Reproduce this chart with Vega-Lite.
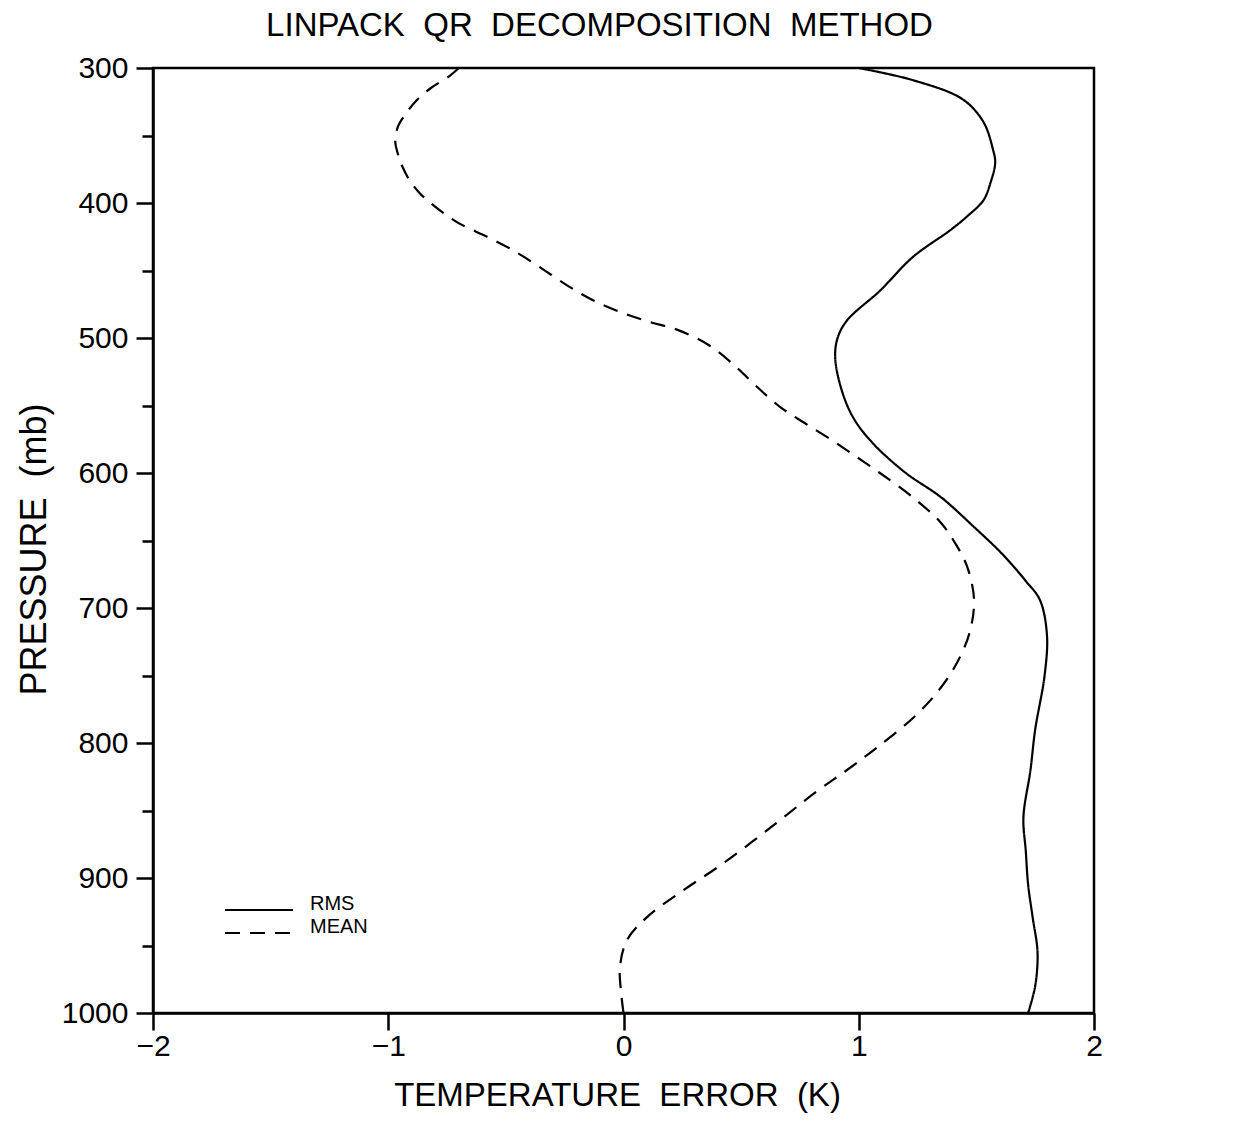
{
  "$schema": "https://vega.github.io/schema/vega-lite/v6.json",
  "autosize": {"type": "none"},
  "width": 941,
  "height": 945,
  "padding": {"left": 153, "top": 68, "right": 147, "bottom": 108},
  "background": "white",
  "config": {
    "view": {"stroke": "black", "strokeWidth": 2.5},
    "font": "Liberation Sans"
  },
  "title": {
    "text": "LINPACK\u00a0 QR\u00a0 DECOMPOSITION\u00a0 METHOD",
    "font": "Liberation Sans",
    "fontSize": 33,
    "fontWeight": "normal",
    "color": "black",
    "frame": "group",
    "anchor": "middle",
    "baseline": "alphabetic",
    "dx": -24,
    "offset": -16
  },
  "data": {
    "values": [
      {"series": "RMS", "pressure": 300, "error": 1.00},
      {"series": "RMS", "pressure": 309, "error": 1.23},
      {"series": "RMS", "pressure": 323, "error": 1.44},
      {"series": "RMS", "pressure": 340, "error": 1.53},
      {"series": "RMS", "pressure": 360, "error": 1.57},
      {"series": "RMS", "pressure": 370, "error": 1.58},
      {"series": "RMS", "pressure": 385, "error": 1.56},
      {"series": "RMS", "pressure": 398, "error": 1.53},
      {"series": "RMS", "pressure": 410, "error": 1.46},
      {"series": "RMS", "pressure": 420, "error": 1.39},
      {"series": "RMS", "pressure": 440, "error": 1.23},
      {"series": "RMS", "pressure": 465, "error": 1.09},
      {"series": "RMS", "pressure": 487, "error": 0.95},
      {"series": "RMS", "pressure": 500, "error": 0.91},
      {"series": "RMS", "pressure": 515, "error": 0.90},
      {"series": "RMS", "pressure": 540, "error": 0.93},
      {"series": "RMS", "pressure": 560, "error": 0.98},
      {"series": "RMS", "pressure": 578, "error": 1.06},
      {"series": "RMS", "pressure": 600, "error": 1.20},
      {"series": "RMS", "pressure": 618, "error": 1.35},
      {"series": "RMS", "pressure": 640, "error": 1.49},
      {"series": "RMS", "pressure": 660, "error": 1.61},
      {"series": "RMS", "pressure": 680, "error": 1.71},
      {"series": "RMS", "pressure": 694, "error": 1.77},
      {"series": "RMS", "pressure": 720, "error": 1.80},
      {"series": "RMS", "pressure": 750, "error": 1.79},
      {"series": "RMS", "pressure": 790, "error": 1.75},
      {"series": "RMS", "pressure": 820, "error": 1.73},
      {"series": "RMS", "pressure": 855, "error": 1.70},
      {"series": "RMS", "pressure": 880, "error": 1.71},
      {"series": "RMS", "pressure": 905, "error": 1.72},
      {"series": "RMS", "pressure": 930, "error": 1.74},
      {"series": "RMS", "pressure": 955, "error": 1.76},
      {"series": "RMS", "pressure": 980, "error": 1.75},
      {"series": "RMS", "pressure": 1000, "error": 1.72},
      {"series": "MEAN", "pressure": 300, "error": -0.70},
      {"series": "MEAN", "pressure": 306, "error": -0.74},
      {"series": "MEAN", "pressure": 315, "error": -0.82},
      {"series": "MEAN", "pressure": 324, "error": -0.88},
      {"series": "MEAN", "pressure": 335, "error": -0.93},
      {"series": "MEAN", "pressure": 344, "error": -0.96},
      {"series": "MEAN", "pressure": 355, "error": -0.97},
      {"series": "MEAN", "pressure": 363, "error": -0.96},
      {"series": "MEAN", "pressure": 373, "error": -0.94},
      {"series": "MEAN", "pressure": 383, "error": -0.91},
      {"series": "MEAN", "pressure": 392, "error": -0.87},
      {"series": "MEAN", "pressure": 400, "error": -0.82},
      {"series": "MEAN", "pressure": 414, "error": -0.71},
      {"series": "MEAN", "pressure": 425, "error": -0.58},
      {"series": "MEAN", "pressure": 435, "error": -0.47},
      {"series": "MEAN", "pressure": 447, "error": -0.36},
      {"series": "MEAN", "pressure": 461, "error": -0.24},
      {"series": "MEAN", "pressure": 472, "error": -0.13},
      {"series": "MEAN", "pressure": 481, "error": -0.01},
      {"series": "MEAN", "pressure": 488, "error": 0.11},
      {"series": "MEAN", "pressure": 494, "error": 0.23},
      {"series": "MEAN", "pressure": 505, "error": 0.36},
      {"series": "MEAN", "pressure": 520, "error": 0.47},
      {"series": "MEAN", "pressure": 535, "error": 0.56},
      {"series": "MEAN", "pressure": 551, "error": 0.665},
      {"series": "MEAN", "pressure": 563, "error": 0.77},
      {"series": "MEAN", "pressure": 575, "error": 0.88},
      {"series": "MEAN", "pressure": 588, "error": 0.99},
      {"series": "MEAN", "pressure": 600, "error": 1.09},
      {"series": "MEAN", "pressure": 618, "error": 1.23},
      {"series": "MEAN", "pressure": 637, "error": 1.35},
      {"series": "MEAN", "pressure": 652, "error": 1.41},
      {"series": "MEAN", "pressure": 669, "error": 1.46},
      {"series": "MEAN", "pressure": 694, "error": 1.49},
      {"series": "MEAN", "pressure": 719, "error": 1.47},
      {"series": "MEAN", "pressure": 743, "error": 1.41},
      {"series": "MEAN", "pressure": 761, "error": 1.34},
      {"series": "MEAN", "pressure": 780, "error": 1.24},
      {"series": "MEAN", "pressure": 803, "error": 1.08},
      {"series": "MEAN", "pressure": 820, "error": 0.95},
      {"series": "MEAN", "pressure": 836, "error": 0.82},
      {"series": "MEAN", "pressure": 862, "error": 0.63},
      {"series": "MEAN", "pressure": 889, "error": 0.425},
      {"series": "MEAN", "pressure": 909, "error": 0.255},
      {"series": "MEAN", "pressure": 929, "error": 0.10},
      {"series": "MEAN", "pressure": 946, "error": 0.015},
      {"series": "MEAN", "pressure": 966, "error": -0.015},
      {"series": "MEAN", "pressure": 985, "error": -0.01},
      {"series": "MEAN", "pressure": 1000, "error": 0.0}
    ]
  },
  "mark": {"type": "line", "interpolate": "catmull-rom", "color": "black", "strokeWidth": 2.2},
  "encoding": {
    "x": {
      "field": "error",
      "type": "quantitative",
      "scale": {"domain": [-2, 2], "nice": false, "zero": false},
      "axis": {
        "values": [-2, -1.5, -1, -0.5, 0, 0.5, 1, 1.5, 2],
        "format": "d",
        "labelExpr": "datum.value % 1 === 0 ? datum.label : ''",
        "tickSize": {"condition": {"test": "datum.value % 1 === 0", "value": 17}, "value": 11},
        "tickColor": "black",
        "tickWidth": 2.5,
        "domainColor": "black",
        "domainWidth": 2.5,
        "grid": false,
        "labelFont": "Liberation Sans",
        "labelFontSize": 30,
        "labelColor": "black",
        "labelPadding": 1,
        "labelFlush": false,
        "labelOverlap": false,
        "title": "TEMPERATURE\u00a0 ERROR\u00a0 (K)",
        "titleFont": "Liberation Sans",
        "titleFontSize": 33,
        "titleFontWeight": "normal",
        "titleColor": "black",
        "titlePadding": 18,
        "titleX": 464
      }
    },
    "y": {
      "field": "pressure",
      "type": "quantitative",
      "scale": {"domain": [300, 1000], "reverse": true, "nice": false, "zero": false},
      "axis": {
        "values": [300, 350, 400, 450, 500, 550, 600, 650, 700, 750, 800, 850, 900, 950, 1000],
        "format": "d",
        "labelExpr": "datum.value % 100 === 0 ? datum.label : ''",
        "tickSize": {"condition": {"test": "datum.value % 100 === 0", "value": 17}, "value": 11},
        "tickColor": "black",
        "tickWidth": 2.5,
        "domainColor": "black",
        "domainWidth": 2.5,
        "grid": false,
        "labelFont": "Liberation Sans",
        "labelFontSize": 30,
        "labelColor": "black",
        "labelPadding": 8,
        "labelFlush": false,
        "labelOverlap": false,
        "title": "PRESSURE\u00a0 (mb)",
        "titleFont": "Liberation Sans",
        "titleFontSize": 36,
        "titleFontWeight": "normal",
        "titleColor": "black",
        "titlePadding": 8,
        "titleY": 481
      }
    },
    "strokeDash": {
      "field": "series",
      "type": "nominal",
      "scale": {"domain": ["RMS", "MEAN"], "range": [[1, 0], [15, 10]]},
      "legend": {
        "title": null,
        "orient": "none",
        "legendX": 96,
        "legendY": 832,
        "symbolType": "M-6.8,0H6.8",
        "symbolSize": 100,
        "symbolStrokeWidth": 2.2,
        "symbolStrokeColor": "black",
        "rowPadding": 2,
        "labelFont": "Liberation Sans",
        "labelFontSize": 20,
        "labelColor": "black",
        "labelBaseline": "alphabetic",
        "labelOffset": 41
      }
    },
    "order": {"field": "pressure", "type": "quantitative"}
  }
}
